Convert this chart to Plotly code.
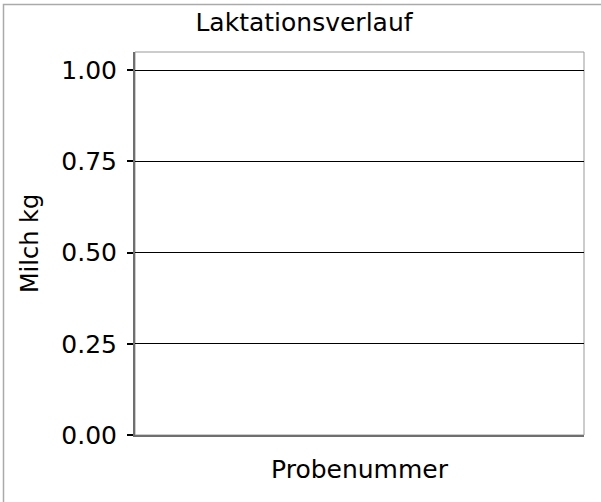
import plotly.graph_objects as go

# Data (the reference chart is empty: no samples plotted)
probenummer = []
milch_kg = []
y_ticks = [0.0, 0.25, 0.5, 0.75, 1.0]
y_tick_labels = ["0.00", "0.25", "0.50", "0.75", "1.00"]

W, H = 601, 502
ml, mr, mt, mb = 135, 17, 52, 67
pw, ph = W - ml - mr, H - mt - mb

def px_x(p):
    return (p - ml) / pw

def px_y(p):
    return (H - mb - p) / ph

fig = go.Figure()
fig.add_trace(go.Scatter(x=probenummer, y=milch_kg, mode="lines+markers",
                         showlegend=False))

font = "DejaVu Sans"
fig.update_layout(
    width=W, height=H,
    margin=dict(l=ml, r=mr, t=mt, b=mb, pad=0),
    paper_bgcolor="white", plot_bgcolor="white",
    showlegend=False,
    title=dict(text="Laktationsverlauf", x=304 / W, xref="container", xanchor="center",
               y=1 - 22.5 / H, yref="container", yanchor="middle",
               font=dict(family=font, size=25, color="black")),
    xaxis=dict(range=[0, 1], showticklabels=False, ticks="", showgrid=False,
               zeroline=False, showline=True, linecolor="#6f6f6f", linewidth=2,
               title=dict(text="Probenummer", standoff=24,
                          font=dict(family=font, size=25, color="black"))),
    yaxis=dict(range=[0, 1.05], tickvals=y_ticks, ticktext=y_tick_labels,
               ticks="outside", ticklen=6, tickwidth=1.5, tickcolor="black",
               showgrid=True, gridcolor="black", gridwidth=1.2,
               zeroline=False, showline=True, linecolor="#6f6f6f", linewidth=2,
               tickfont=dict(family=font, size=25, color="black"),
               ticklabelstandoff=5,
               title=dict(text="Milch kg", standoff=16,
                          font=dict(family=font, size=24, color="black"))),
    shapes=[
        # plot-area border (top/right)
        dict(type="rect", xref="paper", yref="paper", x0=0, x1=1, y0=0, y1=1,
             line=dict(color="#999999", width=1), layer="below"),
        # outer chart border
        dict(type="rect", xref="paper", yref="paper",
             x0=px_x(3.5), x1=px_x(W + 10), y0=px_y(H + 10), y1=px_y(4.5),
             line=dict(color="#aaaaaa", width=1.5)),
    ],
)

fig.write_html("out.html",
               config={"displayModeBar": False},
               post_script="document.body.style.margin='0';"
                           "document.body.style.overflow='hidden';")
